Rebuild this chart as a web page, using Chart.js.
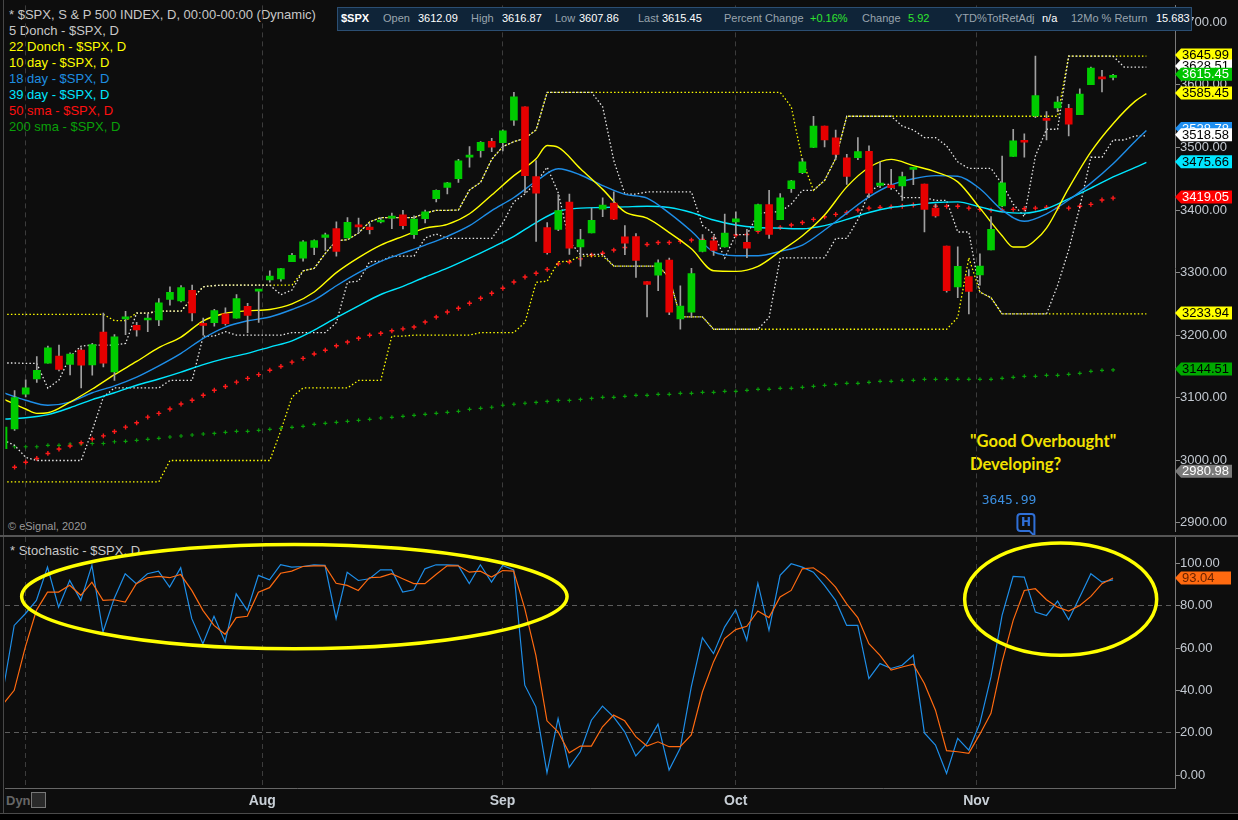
<!DOCTYPE html>
<html><head><meta charset="utf-8">
<script src="https://cdn.jsdelivr.net/npm/chart.js@4.4.1/dist/chart.umd.min.js"></script>
<style>
html,body{margin:0;padding:0;background:#0d0d0d;width:1238px;height:820px;overflow:hidden;font-family:"Liberation Sans",Arial,sans-serif;}
#wrap{position:relative;width:1238px;height:820px;}
canvas{position:absolute;left:0;z-index:1;}
#main{top:0;}
#stoch{top:537px;}
.t{position:absolute;white-space:nowrap;z-index:0;}
#hdr{position:absolute;left:337px;top:7px;width:853px;height:22px;background:#0f2438;border:1px solid #2b4e72;z-index:3;font-size:11px;}
#hdr span{position:absolute;top:4px;white-space:nowrap;}
.lb{color:#9aa4ae;} .vl{color:#ffffff;} .gr{color:#2fe52f;}
</style></head>
<body><div id="wrap">
<div class="t" style="left:3px;top:0;width:1px;height:813px;background:#474747;"></div>
<div class="t" style="left:0;top:535px;width:1238px;height:2px;background:#555;z-index:2;"></div>
<div class="t" style="left:0;top:813px;width:1238px;height:7px;background:#000;border-top:1px solid #4a4a4a;z-index:2;"></div>

<div class="t" style="left:9px;top:7px;font-size:13px;line-height:16px;">
 <div style="color:#c8c8c8">* $SPX, S &amp; P 500 INDEX, D, 00:00-00:00 (Dynamic)</div>
 <div style="color:#c8c8c8">5 Donch - $SPX, D</div>
 <div style="color:#ffff00">22 Donch - $SPX, D</div>
 <div style="color:#ffff00">10 day - $SPX, D</div>
 <div style="color:#1e8ee0">18 day - $SPX, D</div>
 <div style="color:#00e6ff">39 day - $SPX, D</div>
 <div style="color:#ff1010">50 sma - $SPX, D</div>
 <div style="color:#0aa00a">200 sma - $SPX, D</div>
</div>
<div class="t" style="left:8px;top:520px;font-size:11px;color:#9a9a9a;">© eSignal, 2020</div>
<div class="t" style="left:10px;top:543px;font-size:13px;color:#c8c8c8;">* Stochastic - $SPX, D</div>
<div class="t" style="left:970px;top:431px;font:bold 16.5px Lato,'Open Sans',sans-serif;color:#f2e200;">"Good Overbought"</div>
<div class="t" style="left:970px;top:454px;font:bold 16.5px Lato,'Open Sans',sans-serif;color:#f2e200;">Developing?</div>
<div class="t" style="left:6px;top:793px;font-size:13px;font-weight:bold;color:#666;">Dyn</div>
<div class="t" style="left:31px;top:792px;width:13px;height:14px;border:1px solid #777;background:#2a2a2a;"></div>

<div id="hdr">
 <span class="vl" style="left:3px;font-weight:bold;">$SPX</span>
 <span class="lb" style="left:45px;">Open</span><span class="vl" style="left:80px;">3612.09</span>
 <span class="lb" style="left:133px;">High</span><span class="vl" style="left:164px;">3616.87</span>
 <span class="lb" style="left:217px;">Low</span><span class="vl" style="left:241px;">3607.86</span>
 <span class="lb" style="left:300px;">Last</span><span class="vl" style="left:324px;">3615.45</span>
 <span class="lb" style="left:386px;">Percent Change</span><span class="gr" style="left:472px;">+0.16%</span>
 <span class="lb" style="left:524px;">Change</span><span class="gr" style="left:570px;">5.92</span>
 <span class="lb" style="left:617px;">YTD%TotRetAdj</span><span class="vl" style="left:704px;">n/a</span>
 <span class="lb" style="left:733px;">12Mo % Return</span><span class="vl" style="left:818px;">15.683</span>
</div>

<canvas id="main" width="1238" height="537"></canvas>
<canvas id="stoch" width="1238" height="283"></canvas>
</div>
<script>
// ---------- DATA ----------
const dates = ['06-29','06-30','07-01','07-02','07-06','07-07','07-08','07-09','07-10','07-13','07-14','07-15','07-16','07-17','07-20','07-21','07-22','07-23','07-24','07-27','07-28','07-29','07-30','07-31','08-03','08-04','08-05','08-06','08-07','08-10','08-11','08-12','08-13','08-14','08-17','08-18','08-19','08-20','08-21','08-24','08-25','08-26','08-27','08-28','08-31','09-01','09-02','09-03','09-04','09-08','09-09','09-10','09-11','09-14','09-15','09-16','09-17','09-18','09-21','09-22','09-23','09-24','09-25','09-28','09-29','09-30','10-01','10-02','10-05','10-06','10-07','10-08','10-09','10-12','10-13','10-14','10-15','10-16','10-19','10-20','10-21','10-22','10-23','10-26','10-27','10-28','10-29','10-30','11-02','11-03','11-04','11-05','11-06','11-09','11-10','11-11','11-12','11-13','11-16','11-17','11-18'];
const opens = [3018.59,3050.20,3105.92,3143.64,3155.29,3166.44,3153.07,3176.17,3152.47,3205.08,
3141.11,3225.98,3208.36,3224.21,3224.29,3268.52,3254.86,3271.64,3218.58,3219.84,
3234.27,3227.22,3231.76,3270.45,3288.26,3289.92,3317.37,3323.17,3340.05,3356.04,
3370.34,3355.46,3372.95,3368.66,3380.86,3387.04,3392.51,3360.48,3386.01,3418.09,
3435.95,3449.97,3485.14,3494.69,3509.73,3507.44,3543.76,3564.74,3453.60,3371.88,
3369.10,3412.56,3352.70,3363.56,3407.73,3411.23,3346.86,3357.38,3285.57,3295.75,
3320.11,3226.14,3236.66,3333.90,3350.92,3341.21,3385.87,3338.94,3367.27,3408.74,
3384.56,3434.28,3459.67,3500.02,3534.01,3515.47,3453.72,3493.50,3493.66,3439.38,
3439.91,3438.50,3464.90,3441.42,3403.15,3342.48,3277.17,3293.59,3296.20,3336.25,
3406.46,3485.74,3508.34,3583.04,3543.26,3563.22,3562.67,3552.57,3600.16,3610.31,
3612.09];
const highs = [3053.89,3111.51,3128.44,3165.81,3182.59,3184.15,3171.80,3179.78,3186.82,3235.32,
3200.95,3238.28,3220.39,3233.52,3258.61,3277.29,3279.32,3279.99,3227.26,3241.43,
3243.72,3264.74,3250.92,3272.17,3302.73,3306.84,3330.77,3351.03,3352.54,3363.29,
3381.01,3387.89,3387.24,3378.51,3387.59,3395.06,3399.54,3390.80,3399.96,3432.09,
3444.21,3481.07,3501.38,3509.23,3514.77,3528.03,3588.11,3564.85,3479.15,3379.97,
3424.77,3425.55,3368.95,3402.93,3419.48,3428.92,3375.17,3362.27,3285.57,3320.31,
3323.35,3278.70,3306.88,3360.74,3357.92,3393.56,3397.18,3369.10,3409.57,3431.56,
3426.26,3447.28,3482.34,3549.85,3534.01,3527.94,3489.08,3515.76,3502.42,3476.93,
3464.86,3460.53,3466.46,3441.42,3409.51,3342.48,3341.05,3304.93,3330.14,3389.49,
3486.25,3529.05,3521.58,3645.99,3557.22,3581.16,3569.02,3593.66,3628.51,3623.11,
3616.87];
const lows = [2999.74,3047.83,3101.17,3124.52,3155.29,3142.93,3136.53,3115.70,3136.22,3149.43,
3127.66,3200.76,3198.59,3205.65,3215.16,3247.77,3253.10,3222.66,3200.05,3214.25,
3216.17,3227.22,3204.13,3220.26,3284.53,3286.37,3317.37,3318.14,3328.72,3335.44,
3326.44,3355.46,3363.35,3361.64,3379.22,3370.15,3369.66,3354.69,3379.31,3413.13,
3425.84,3444.15,3468.35,3484.32,3493.25,3494.60,3535.23,3427.41,3349.63,3329.27,
3366.84,3329.25,3310.47,3363.56,3389.25,3384.45,3328.82,3292.40,3229.10,3270.95,
3232.57,3209.45,3228.44,3332.91,3327.54,3340.47,3361.39,3323.69,3367.27,3354.54,
3384.56,3428.15,3458.07,3499.61,3500.86,3480.55,3440.89,3480.45,3419.93,3435.65,
3433.06,3415.34,3440.45,3364.86,3388.71,3268.89,3259.82,3233.94,3279.74,3336.25,
3405.17,3485.74,3484.34,3547.48,3511.91,3557.00,3518.58,3552.57,3600.16,3588.68,
3607.86];
const closes = [3053.24,3100.29,3115.86,3130.01,3179.72,3145.32,3169.94,3152.05,3185.04,3155.22,
3197.52,3226.56,3215.57,3224.73,3251.84,3257.30,3276.02,3235.66,3215.63,3239.41,
3218.44,3258.44,3246.22,3271.12,3294.61,3306.51,3327.77,3349.16,3351.28,3360.47,
3333.69,3380.35,3373.43,3372.85,3381.99,3389.78,3374.85,3385.51,3397.16,3431.28,
3443.62,3478.73,3484.55,3508.01,3500.31,3526.65,3580.84,3455.06,3426.96,3331.84,
3398.96,3339.19,3340.97,3383.54,3401.20,3385.49,3357.01,3319.47,3281.06,3315.57,
3236.92,3246.59,3298.46,3351.60,3335.47,3363.00,3380.80,3348.42,3408.60,3360.97,
3419.44,3446.83,3477.14,3534.22,3511.93,3488.67,3483.34,3483.81,3426.92,3443.12,
3435.56,3453.49,3465.39,3400.97,3390.68,3271.03,3310.11,3269.96,3310.24,3369.16,
3443.44,3510.45,3509.44,3550.50,3545.53,3572.66,3537.01,3585.15,3626.91,3609.53,
3615.45];
const closeBeforeFirst = 3009.05;

// Donchian channels (displayed 3 bars forward, index = bar position 0..103)
const donch5Upper = [3155.53,3155.53,3154.90,3154.90,3115.01,3128.44,3165.81,3182.59,3184.15,3184.15,
3184.15,3186.82,3235.32,3235.32,3238.28,3238.28,3238.28,3258.61,3277.29,3279.32,
3279.99,3279.99,3279.99,3279.99,3279.99,3264.74,3272.17,3302.73,3306.84,3330.77,
3351.03,3352.54,3363.29,3381.01,3387.89,3387.89,3387.89,3387.89,3395.06,3399.54,
3399.54,3399.96,3432.09,3444.21,3481.07,3501.38,3509.23,3514.77,3528.03,3588.11,
3588.11,3588.11,3588.11,3588.11,3564.85,3479.15,3425.55,3425.55,3428.92,3428.92,
3428.92,3428.92,3428.92,3375.17,3362.27,3323.35,3360.74,3360.74,3393.56,3397.18,
3397.18,3409.57,3431.56,3431.56,3447.28,3482.34,3549.85,3549.85,3549.85,3549.85,
3549.85,3534.01,3527.94,3515.76,3515.76,3502.42,3476.93,3466.46,3466.46,3466.46,
3441.42,3409.51,3389.49,3486.25,3529.05,3529.05,3645.99,3645.99,3645.99,3645.99,
3645.99,3628.51,3628.51,3628.51];
const donch5Lower = [3032.13,3024.01,3004.63,2999.74,2999.74,2999.74,2999.74,2999.74,3047.83,3101.17,
3115.70,3115.70,3115.70,3115.70,3115.70,3127.66,3127.66,3127.66,3198.59,3198.59,
3205.65,3200.05,3200.05,3200.05,3200.05,3200.05,3204.13,3204.13,3204.13,3204.13,
3220.26,3284.53,3286.37,3317.37,3318.14,3326.44,3326.44,3326.44,3355.46,3361.64,
3354.69,3354.69,3354.69,3354.69,3354.69,3379.31,3413.13,3425.84,3444.15,3468.35,
3427.41,3349.63,3329.27,3329.27,3329.25,3310.47,3310.47,3310.47,3310.47,3310.47,
3292.40,3229.10,3229.10,3229.10,3209.45,3209.45,3209.45,3209.45,3209.45,3228.44,
3323.69,3323.69,3323.69,3323.69,3323.69,3354.54,3354.54,3384.56,3428.15,3440.89,
3440.89,3419.93,3419.93,3419.93,3415.34,3415.34,3364.86,3364.86,3268.89,3259.82,
3233.94,3233.94,3233.94,3233.94,3233.94,3279.74,3336.25,3405.17,3484.34,3484.34,
3511.91,3511.91,3518.58,3518.58];
const donch22Upper = [3233.13,3233.13,3233.13,3233.13,3233.13,3233.13,3233.13,3233.13,3233.13,3233.13,
3223.27,3223.27,3235.32,3235.32,3238.28,3238.28,3238.28,3258.61,3277.29,3279.32,
3279.99,3279.99,3279.99,3279.99,3279.99,3279.99,3279.99,3302.73,3306.84,3330.77,
3351.03,3352.54,3363.29,3381.01,3387.89,3387.89,3387.89,3387.89,3395.06,3399.54,
3399.54,3399.96,3432.09,3444.21,3481.07,3501.38,3509.23,3514.77,3528.03,3588.11,
3588.11,3588.11,3588.11,3588.11,3588.11,3588.11,3588.11,3588.11,3588.11,3588.11,
3588.11,3588.11,3588.11,3588.11,3588.11,3588.11,3588.11,3588.11,3588.11,3588.11,
3588.11,3564.85,3479.15,3431.56,3447.28,3482.34,3549.85,3549.85,3549.85,3549.85,
3549.85,3549.85,3549.85,3549.85,3549.85,3549.85,3549.85,3549.85,3549.85,3549.85,
3549.85,3549.85,3549.85,3549.85,3549.85,3549.85,3645.99,3645.99,3645.99,3645.99,
3645.99,3645.99,3645.99,3645.99];
const donch22Lower = [2965.66,2965.66,2965.66,2965.66,2965.66,2965.66,2965.66,2965.66,2965.66,2965.66,
2965.66,2965.66,2965.66,2965.66,2965.66,2999.74,2999.74,2999.74,2999.74,2999.74,
2999.74,2999.74,2999.74,2999.74,2999.74,3047.83,3101.17,3115.70,3115.70,3115.70,
3115.70,3115.70,3127.66,3127.66,3127.66,3198.59,3198.59,3200.05,3200.05,3200.05,
3200.05,3200.05,3200.05,3204.13,3204.13,3204.13,3204.13,3220.26,3284.53,3286.37,
3317.37,3318.14,3326.44,3326.44,3326.44,3310.47,3310.47,3310.47,3310.47,3310.47,
3292.40,3229.10,3229.10,3229.10,3209.45,3209.45,3209.45,3209.45,3209.45,3209.45,
3209.45,3209.45,3209.45,3209.45,3209.45,3209.45,3209.45,3209.45,3209.45,3209.45,
3209.45,3209.45,3209.45,3209.45,3209.45,3209.45,3228.44,3323.69,3268.89,3259.82,
3233.94,3233.94,3233.94,3233.94,3233.94,3233.94,3233.94,3233.94,3233.94,3233.94,
3233.94,3233.94,3233.94,3233.94];

// Displaced averages (bar position, value)
const tenDayX = [0,2,3,4,6,8,10,12,14,16,18,20,22,24,26,28,30,32,34,36,38,40,42,44,46,48,49,50,52,54,56,58,60,62,64,66,68,70,72,74,76,78,80,82,84,86,88,90,91,92,93,94,96,98,100,102,103];
const tenDayY = [3098,3082,3075,3076,3093,3114,3137,3158,3180,3197,3223,3235,3239,3241,3250,3269,3300,3324,3344,3358,3371,3377,3394,3424,3455,3482,3503,3500,3466,3433,3397,3387,3364,3338,3303,3302,3310,3334,3359,3392,3437,3468,3481,3471,3461,3445,3403,3359,3341,3341,3352,3371,3435,3493,3538,3574,3586];
const slowX = [0,2,4,6,8,10,12,14,16,18,20,22,24,26,28,30,32,34,36,38,40,42,44,46,48,50,52,54,56,58,60,62,64,66,68,70,72,74,76,78,80,82,84,86,88,90,92,94,96,98,100,102,103];
const eighteenDayY = [3108,3096,3088,3093,3108,3119,3133,3151,3171,3195,
3213,3223,3229,3241,3256,3279,3300,3318,3331,3344,
3358,3375,3399,3420,3446,3466,3456,3439,3425,3419,
3395,3366,3333,3327,3327,3334,3344,3368,3395,3421,
3440,3450,3455,3454,3434,3400,3382,3394,3416,3443,
3474,3510,3527];
const thirtyNineDayY = [3066,3068,3073,3084,3097,3108,3120,3130,3141,3153,
3163,3171,3181,3191,3208,3228,3247,3265,3278,3293,
3307,3323,3340,3358,3380,3398,3403,3404,3405,3406,
3404,3396,3384,3376,3372,3371,3370,3375,3385,3396,
3404,3408,3412,3413,3405,3397,3395,3402,3418,3435,
3453,3468,3476];

const sma50 = [null,2989,2997,3003,3011,3018,3023,3028,3034,3039,3046,
3053,3060,3069,3075,3082,3090,3096,3104,3112,3118,
3125,3131,3137,3144,3150,3157,3163,3170,3176,3183,
3189,3195,3200,3203,3207,3210,3213,3221,3229,3237,
3243,3251,3259,3267,3275,3285,3293,3299,3305,3314,
3317,3322,3328,3331,3336,3340,3344,3345,3348,3348,
3350,3352,3353,3355,3358,3360,3361,3366,3369,3372,
3376,3380,3385,3389,3393,3396,3400,3403,3404,3405,
3406,3408,3407,3406,3406,3406,3403,3401,3400,3400,
3401,3402,3403,3404,3403,3403,3406,3409,3416,3419];
const sma200 = [null,3021.7,3021.7,3021.7,3023.9,3023.9,3026.0,3026.0,3027.0,3027.0,3029.7,
3030.3,3031.9,3033.5,3035.1,3037.2,3038.8,3040.4,3042.0,3043.0,3044.7,
3046.3,3046.3,3047.9,3049.5,3051.1,3052.7,3054.3,3057.5,3059.1,3060.7,
3062.3,3063.9,3065.5,3067.6,3068.7,3070.3,3071.9,3073.5,3075.1,3076.7,
3078.3,3081.5,3083.1,3084.7,3087.9,3089.5,3091.1,3092.6,3094.2,3095.8,
3095.8,3097.4,3099.0,3100.6,3100.6,3102.2,3103.8,3103.8,3105.4,3105.4,
3107.0,3107.0,3108.6,3108.6,3110.2,3110.2,3111.8,3113.4,3113.4,3115.0,
3115.0,3116.6,3118.2,3119.8,3121.4,3123.0,3123.0,3124.6,3126.2,3126.2,
3127.8,3127.8,3129.4,3129.4,3129.4,3129.4,3129.4,3129.4,3129.4,3131.0,
3132.6,3134.2,3134.2,3135.8,3135.8,3137.4,3139.0,3142.2,3143.8,3144.5];

const stochK = [40.1,70.7,76.2,82.5,98.2,79.3,91.9,82.5,99.0,67.6,
83.3,95.1,90.4,95.1,96.3,88.8,97.9,73.9,62.1,75.0,
62.9,85.6,77.8,94.3,92.2,99.4,98.2,98.5,99.3,99.0,
73.9,95.8,91.9,92.7,96.9,96.9,86.4,87.5,97.4,99.3,
99.3,99.0,90.4,99.3,91.1,99.0,96.9,42.5,32.3,1.2,
26.8,3.8,11.1,26.0,32.6,27.6,20.5,9.1,15.1,24.1,
2.5,12.7,41.7,64.9,57.4,69.9,78.1,63.7,90.6,68.4,
94.3,99.8,98.2,95.8,89.6,82.5,70.7,70.7,45.6,52.7,
50.4,51.9,56.6,20.0,14.3,0.9,17.4,11.9,24.5,46.4,
75.4,93.8,93.5,77.0,75.4,82.2,73.4,84.1,95.1,91.1,
92.2];
const stochD = [33.6,40.1,60.5,77.8,86.4,86.4,89.6,84.9,91.1,82.5,
82.8,81.7,90.4,93.2,93.8,93.2,94.7,87.2,77.8,70.7,
66.5,74.4,75.0,86.4,88.5,95.3,96.3,98.5,98.8,98.8,
90.6,89.6,87.2,93.2,93.5,95.1,92.7,90.4,90.4,94.7,
98.8,98.8,95.8,96.3,93.5,96.6,96.3,78.6,56.6,25.7,
20.5,10.6,13.8,13.8,22.9,28.4,25.7,18.2,13.8,15.8,
13.5,13.5,19.0,39.3,53.5,64.5,68.7,70.3,77.5,74.4,
84.1,87.2,97.4,97.9,94.3,88.8,80.9,74.4,62.1,56.6,
49.6,51.1,52.4,43.3,30.7,11.6,11.1,10.4,19.4,29.2,
53.5,73.1,87.2,88.0,82.8,79.3,77.5,80.1,84.4,90.4,
93.04];

const priceTicks = [2900,3000,3100,3200,3300,3400,3500,3600,3700];
const stochTicks = [0,20,40,60,80,100];
const monthTickPos = [2, 23.35, 45, 66, 87.69];
const monthTickLabels = ['', 'Aug', 'Sep', 'Oct', 'Nov'];
const axisFlags = [
  {v:3645.99, bg:'#ffff00', fg:'#000'},
  {v:3628.51, bg:'#ffffff', fg:'#000'},
  {v:3615.45, bg:'#00c400', fg:'#fff'},
  {v:3585.45, bg:'#ffff00', fg:'#000'},
  {v:3528.78, bg:'#1e8ef0', fg:'#fff'},
  {v:3518.58, bg:'#ffffff', fg:'#000'},
  {v:3475.66, bg:'#00e6ff', fg:'#000'},
  {v:3419.05, bg:'#ff0000', fg:'#fff'},
  {v:3233.94, bg:'#ffff00', fg:'#000'},
  {v:3144.51, bg:'#00a800', fg:'#000'},
  {v:2980.98, bg:'#7a7a7a', fg:'#fff'}
];
const stochFlag = {v:93.04, bg:'#ff6a10', fg:'#6a2300'};
const highMark = {idx:93, v:3645.99};
const ellipses = [
  {cx:26.24, cy:84.3, rx:24.57, ry:24.6},
  {cx:95.28, cy:83.1, rx:8.65, ry:26.5}
];

// ---------- BUILD ----------
Chart.defaults.font.family = '"Liberation Sans", Arial, sans-serif';
const X_MIN = 0.171, X_MAX = 105.58;

const candleColors = closes.map((c,i) => c >= (i ? closes[i-1] : closeBeforeFirst) ? '#00cc00' : '#e60000');
const pts = (arr) => arr.map((v,i) => ({x:i, y:v}));
const xy = (xs, ys) => xs.map((x,i) => ({x:x, y:ys[i]}));

// keeps two axis values at fixed canvas pixel rows, whatever the layout leaves as chart area
const pinY = (vHi, pHi, vLo, pLo) => ({
  id:'pinY',
  afterLayout(chart) {
    const s = chart.scales.y;
    const k = (pLo - pHi) / (vHi - vLo);
    s.max = vHi + (pHi - s.top) / k;
    s.min = vLo - (s.bottom - pLo) / k;
    s.configure();
  }
});

function drawFlag(ctx, x0, y, text, bg, fg, w) {
  const h = 13;
  ctx.beginPath();
  ctx.moveTo(x0, y);
  ctx.lineTo(x0+6, y-h/2);
  ctx.lineTo(x0+6+w, y-h/2);
  ctx.lineTo(x0+6+w, y+h/2);
  ctx.lineTo(x0+6, y+h/2);
  ctx.closePath();
  ctx.fillStyle = bg; ctx.fill();
  ctx.fillStyle = fg;
  ctx.font = '13px "Liberation Sans", Arial';
  ctx.textBaseline = 'middle'; ctx.textAlign = 'left';
  ctx.fillText(text, x0+7, y+0.5);
}

const mainPlugin = {
  id:'mainOverlay',
  afterDraw(chart) {
    const {ctx, scales:{x, y}} = chart;
    ctx.save();
    axisFlags.forEach(f => drawFlag(ctx, y.left, y.getPixelForValue(f.v) - 1, f.v.toFixed(2), f.bg, f.fg, 51));
    const hx = x.getPixelForValue(highMark.idx);
    const b = y.getPixelForValue(2900);
    ctx.font = '13px "DejaVu Sans Mono", monospace';
    ctx.fillStyle = '#3c8fe0'; ctx.textAlign = 'right'; ctx.textBaseline = 'middle';
    ctx.fillText(highMark.v.toFixed(2), hx + 1, b - 22);
    ctx.strokeStyle = '#2f6fd6'; ctx.lineWidth = 2;
    const bx = hx - 18, by = b - 9, bw = 17, bh = 17, r = 3;
    ctx.beginPath();
    ctx.moveTo(bx + r, by); ctx.lineTo(bx + bw - r, by); ctx.quadraticCurveTo(bx+bw, by, bx+bw, by+r);
    ctx.lineTo(bx + bw, by + bh + 5); ctx.lineTo(bx + bw - 5, by + bh);
    ctx.lineTo(bx + r, by + bh); ctx.quadraticCurveTo(bx, by+bh, bx, by+bh-r);
    ctx.lineTo(bx, by + r); ctx.quadraticCurveTo(bx, by, bx+r, by);
    ctx.stroke();
    ctx.fillStyle = '#2f6fd6'; ctx.font = 'bold 12px "DejaVu Sans", Arial'; ctx.textAlign = 'center';
    ctx.fillText('H', bx + bw/2, by + bh/2 + 0.5);
    ctx.restore();
  }
};

const stochPlugin = {
  id:'stochOverlay',
  afterDraw(chart) {
    const {ctx, scales:{x, y}} = chart;
    ctx.save();
    ctx.strokeStyle = '#ffff00'; ctx.lineWidth = 3.5;
    ellipses.forEach(e => {
      const cx = x.getPixelForValue(e.cx), cy = y.getPixelForValue(e.cy);
      const rx = x.getPixelForValue(e.cx + e.rx) - cx, ry = cy - y.getPixelForValue(e.cy + e.ry);
      ctx.beginPath(); ctx.ellipse(cx, cy, rx, ry, 0, 0, Math.PI*2); ctx.stroke();
    });
    drawFlag(ctx, y.left, y.getPixelForValue(stochFlag.v), stochFlag.v.toFixed(2), stochFlag.bg, stochFlag.fg, 50);
    ctx.restore();
  }
};

const dotted = (data, color) => ({type:'line', data, borderColor:color, borderWidth:1.3, borderDash:[1.5,2.2], pointRadius:0, fill:false, tension:0});
const smooth = (data, color) => ({type:'line', data, borderColor:color, borderWidth:1.4, pointRadius:0, fill:false, cubicInterpolationMode:'monotone'});
const crosses = (data, color, r, w) => ({type:'line', data, showLine:false, pointStyle:'cross', pointRadius:r, pointBorderWidth:w, pointBorderColor:color, pointBackgroundColor:color});

new Chart(document.getElementById('main'), {
  type:'line',
  data:{datasets:[
    {type:'bar', data: opens.map((o,i) => ({x:i, y:[Math.min(o, closes[i]), Math.max(o, closes[i])]})), backgroundColor:candleColors, barThickness:7, minBarLength:2, grouped:false},
    {type:'bar', data: lows.map((l,i) => ({x:i, y:[l, highs[i]]})), backgroundColor:'#a0a0a0', barThickness:1, grouped:false},
    smooth(xy(tenDayX, tenDayY), '#ffff00'),
    smooth(xy(slowX, eighteenDayY), '#1e8ee8'),
    smooth(xy(slowX, thirtyNineDayY), '#00e6ff'),
    dotted(pts(donch5Upper), '#e8e8e8'),
    dotted(pts(donch5Lower), '#e8e8e8'),
    dotted(pts(donch22Upper), '#ffff00'),
    dotted(pts(donch22Lower), '#ffff00'),
    crosses(pts(sma50), '#ff1a1a', 2.4, 1.4),
    crosses(pts(sma200), '#0aa00a', 2, 1.1)
  ]},
  options:{
    responsive:false, animation:false, events:[],
    layout:{padding:{left:5, top:5, right:0, bottom:2}},
    plugins:{legend:{display:false}, tooltip:{enabled:false}},
    scales:{
      x:{type:'linear', min:X_MIN, max:X_MAX, offset:false, display:true,
         ticks:{display:false},
         grid:{color:'#3c3c3c', drawTicks:false, lineWidth:1, offset:false},
         border:{display:false, dash:[5,4]},
         afterBuildTicks:s => { s.ticks = monthTickPos.map(v => ({value:v})); },
         afterFit:s => { s.height = 0; s.paddingLeft = 0; s.paddingRight = 0; }},
      y:{type:'linear', position:'right', min:2880.7, max:3727.6,
         ticks:{color:'#c3c9d1', font:{size:13}, padding:0, callback:v => Number(v).toFixed(2)},
         grid:{drawOnChartArea:false, tickLength:5, tickColor:'#8a8a8a'},
         border:{display:true, color:'#7a7a7a'},
         afterBuildTicks:s => { s.ticks = priceTicks.map(v => ({value:v})); },
         afterFit:s => { s.width = 63; s.paddingTop = 0; s.paddingBottom = 0; }}
    }
  },
  plugins:[pinY(3700, 22.3, 2900, 522.9), mainPlugin]
});

new Chart(document.getElementById('stoch'), {
  type:'line',
  data:{datasets:[
    {data: pts(stochD), borderColor:'#ff6a10', borderWidth:1.2, pointRadius:0, fill:false, tension:0},
    {data: pts(stochK), borderColor:'#1e8ee8', borderWidth:1.2, pointRadius:0, fill:false, tension:0}
  ]},
  options:{
    responsive:false, animation:false, events:[],
    layout:{padding:{left:5, top:0, right:0, bottom:7.3}},
    plugins:{legend:{display:false}, tooltip:{enabled:false}},
    scales:{
      x:{type:'linear', min:X_MIN, max:X_MAX, offset:false,
         ticks:{color:'#c8cfd6', font:{size:14, weight:'bold'}, padding:4, autoSkip:false, maxRotation:0,
                callback:(v, i) => monthTickLabels[i]},
         grid:{color:'#3c3c3c', drawTicks:false, offset:false},
         border:{display:true, color:'#666', dash:[5,4]},
         afterBuildTicks:s => { s.ticks = monthTickPos.map(v => ({value:v})); },
         afterFit:s => { s.height = 24; s.paddingLeft = 0; s.paddingRight = 0; }},
      y:{type:'linear', position:'right', min:-6.3, max:112.1,
         ticks:{color:'#c3c9d1', font:{size:13}, padding:0, callback:v => Number(v).toFixed(2)},
         grid:{color:ctx => (ctx.tick && (ctx.tick.value === 80 || ctx.tick.value === 20)) ? '#5c5c5c' : 'rgba(0,0,0,0)',
               tickColor:'#8a8a8a', tickLength:5},
         border:{display:true, color:'#7a7a7a', dash:[5,4]},
         afterBuildTicks:s => { s.ticks = stochTicks.map(v => ({value:v})); },
         afterFit:s => { s.width = 63; s.paddingTop = 0; s.paddingBottom = 0; }}
    }
  },
  plugins:[pinY(100, 26.3, 0, 238.3), stochPlugin]
});
</script>
</body></html>
